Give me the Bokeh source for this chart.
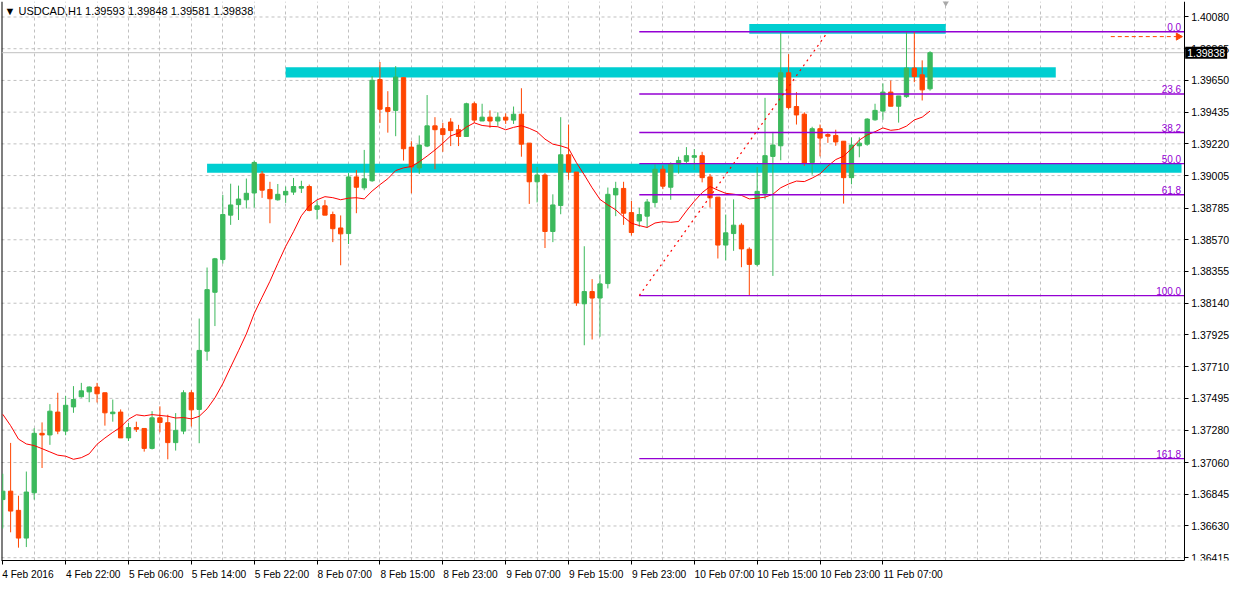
import numpy as np
import pandas as pd
from bokeh.plotting import figure
from bokeh.models import FixedTicker, PrintfTickFormatter, Label, Range1d
from bokeh.core.properties import value
from bokeh.embed import file_html
from bokeh.resources import INLINE

# ---------------- data (USDCAD, H1) ----------------
opens = [1.36809, 1.36866, 1.36736, 1.36548, 1.36855, 1.37258, 1.37247, 1.37402, 1.37273, 1.37437,
         1.37506, 1.37539, 1.37572, 1.37533, 1.37391, 1.37402, 1.37227, 1.37297, 1.37291, 1.37156,
         1.37363, 1.37330, 1.37195, 1.37273, 1.37533, 1.37420, 1.37815, 1.38214, 1.38436, 1.38737,
         1.38808, 1.38841, 1.38887, 1.39016, 1.38911, 1.38841, 1.38874, 1.38893, 1.38920, 1.38931,
         1.38776, 1.38800, 1.38741, 1.38650, 1.38612, 1.38996, 1.38922, 1.38970, 1.39656, 1.39466,
         1.39447, 1.39669, 1.39198, 1.39057, 1.39205, 1.39342, 1.39323, 1.39368, 1.39316, 1.39270,
         1.39492, 1.39375, 1.39401, 1.39375, 1.39401, 1.39381, 1.39421, 1.39225, 1.38963, 1.39009,
         1.38626, 1.38802, 1.39146, 1.39029, 1.38136, 1.38219, 1.38175, 1.38273, 1.38874, 1.38918,
         1.38754, 1.38697, 1.38730, 1.38822, 1.39048, 1.38926, 1.39083, 1.39102, 1.39129, 1.39140,
         1.38996, 1.38859, 1.38534, 1.38612, 1.38669, 1.38506, 1.38403, 1.38885, 1.39135, 1.39207,
         1.39702, 1.39473, 1.39421, 1.39094, 1.39323, 1.39283, 1.39277, 1.39238, 1.38991, 1.39207,
         1.39218, 1.39383, 1.39442, 1.39571, 1.39475, 1.39540, 1.39734, 1.39688, 1.39593]
highs = [1.36984, 1.37193, 1.36835, 1.36999, 1.37293, 1.37332, 1.37456, 1.37533, 1.37511, 1.37578,
         1.37600, 1.37576, 1.37600, 1.37533, 1.37487, 1.37420, 1.37328, 1.37337, 1.37291, 1.37408,
         1.37441, 1.37384, 1.37395, 1.37550, 1.37550, 1.38036, 1.38382, 1.38447, 1.38874, 1.38950,
         1.38937, 1.38985, 1.39107, 1.39035, 1.38963, 1.38948, 1.38931, 1.38989, 1.38970, 1.38944,
         1.38835, 1.38839, 1.38761, 1.38735, 1.39022, 1.39042, 1.39179, 1.39680, 1.39775, 1.39577,
         1.39747, 1.39669, 1.39238, 1.39277, 1.39551, 1.39401, 1.39362, 1.39394, 1.39349, 1.39499,
         1.39506, 1.39492, 1.39447, 1.39434, 1.39427, 1.39473, 1.39597, 1.39225, 1.39063, 1.39022,
         1.38878, 1.39401, 1.39351, 1.39029, 1.38526, 1.38303, 1.38336, 1.38924, 1.38963, 1.38963,
         1.38833, 1.38787, 1.38846, 1.39081, 1.39074, 1.39094, 1.39133, 1.39198, 1.39185, 1.39166,
         1.39016, 1.38859, 1.38741, 1.38844, 1.38682, 1.38519, 1.39063, 1.39532, 1.39301, 1.39976,
         1.39828, 1.39571, 1.39434, 1.39336, 1.39351, 1.39292, 1.39316, 1.39238, 1.39264, 1.39264,
         1.39394, 1.39492, 1.39630, 1.39649, 1.39545, 1.39980, 1.39980, 1.39786, 1.39848]
lows = [1.36613, 1.36587, 1.36483, 1.36487, 1.36809, 1.37023, 1.37180, 1.37252, 1.37245, 1.37397,
        1.37500, 1.37469, 1.37467, 1.37310, 1.37337, 1.37227, 1.37206, 1.37267, 1.37134, 1.37149,
        1.37265, 1.37082, 1.37141, 1.37252, 1.37304, 1.37191, 1.37750, 1.37985, 1.38408, 1.38671,
        1.38704, 1.38782, 1.38787, 1.38854, 1.38682, 1.38835, 1.38820, 1.38874, 1.38887, 1.38763,
        1.38708, 1.38737, 1.38554, 1.38397, 1.38541, 1.38750, 1.38906, 1.38963, 1.39362, 1.39296,
        1.39272, 1.39107, 1.38885, 1.39016, 1.39198, 1.39048, 1.39166, 1.39205, 1.39205, 1.39270,
        1.39362, 1.39375, 1.39329, 1.39342, 1.39355, 1.39355, 1.39133, 1.38813, 1.38823, 1.38514,
        1.38554, 1.38743, 1.38976, 1.38122, 1.37855, 1.37894, 1.37913, 1.38240, 1.38730, 1.38671,
        1.38599, 1.38658, 1.38652, 1.38789, 1.38913, 1.38841, 1.39018, 1.39083, 1.39044, 1.38959,
        1.38789, 1.38443, 1.38430, 1.38495, 1.38384, 1.38192, 1.38390, 1.38844, 1.38325, 1.39109,
        1.39455, 1.39351, 1.39070, 1.39011, 1.39135, 1.39227, 1.39207, 1.38815, 1.38946, 1.39129,
        1.39207, 1.39377, 1.39383, 1.39475, 1.39364, 1.39532, 1.39638, 1.39514, 1.39581]
closes = [1.36866, 1.36731, 1.36548, 1.36860, 1.37258, 1.37247, 1.37408, 1.37273, 1.37448, 1.37487,
          1.37546, 1.37572, 1.37526, 1.37397, 1.37402, 1.37227, 1.37297, 1.37286, 1.37156, 1.37363,
          1.37332, 1.37195, 1.37278, 1.37533, 1.37417, 1.37820, 1.38232, 1.38441, 1.38741, 1.38806,
          1.38846, 1.38885, 1.39094, 1.38906, 1.38848, 1.38878, 1.38898, 1.38931, 1.38931, 1.38769,
          1.38800, 1.38737, 1.38645, 1.38610, 1.38996, 1.38926, 1.38983, 1.39651, 1.39455, 1.39440,
          1.39673, 1.39187, 1.39063, 1.39212, 1.39342, 1.39316, 1.39283, 1.39310, 1.39270, 1.39492,
          1.39381, 1.39401, 1.39375, 1.39401, 1.39381, 1.39421, 1.39218, 1.38963, 1.39009, 1.38626,
          1.38806, 1.39146, 1.39029, 1.38142, 1.38219, 1.38175, 1.38271, 1.38878, 1.38918, 1.38750,
          1.38619, 1.38741, 1.38826, 1.39048, 1.38933, 1.39087, 1.39107, 1.39140, 1.39140, 1.38991,
          1.38854, 1.38534, 1.38617, 1.38669, 1.38508, 1.38403, 1.38898, 1.39140, 1.39212, 1.39702,
          1.39466, 1.39416, 1.39089, 1.39323, 1.39259, 1.39272, 1.39233, 1.38991, 1.39212, 1.39225,
          1.39388, 1.39447, 1.39571, 1.39475, 1.39545, 1.39734, 1.39677, 1.39586, 1.39838]

# moving average: values of the first bars, the rest is its 14-bar SMA
ma_period = 14
ma_head = [1.37387, 1.37310, 1.37219, 1.37186, 1.37175, 1.37154, 1.37132,
           1.37110, 1.37103, 1.37082, 1.37093, 1.37119, 1.37184]

price_ticks = [1.40080, 1.39865, 1.39650, 1.39435, 1.39220, 1.39005, 1.38785, 1.38570, 1.38355,
               1.38140, 1.37925, 1.37710, 1.37495, 1.37280, 1.37060, 1.36845, 1.36630, 1.36415]
date_labels = ["4 Feb 2016", "4 Feb 22:00", "5 Feb 06:00", "5 Feb 14:00", "5 Feb 22:00",
               "8 Feb 07:00", "8 Feb 15:00", "8 Feb 23:00", "9 Feb 07:00", "9 Feb 15:00",
               "9 Feb 23:00", "10 Feb 07:00", "10 Feb 15:00", "10 Feb 23:00", "11 Feb 07:00"]
date_bars = list(range(0, 8 * len(date_labels), 8))

fib_levels = [0.0, 23.6, 38.2, 50.0, 61.8, 100.0, 161.8]
fib_high = 1.39980
fib_low = 1.38192
fib_start_bar = 81
fib_end_bar = 105

zone_left = [95, 36, 26]
zone_right = [120, 134, 150]
zone_top = [1.40032, 1.39739, 1.39086]
zone_bottom = [1.39966, 1.39670, 1.39024]

bid_price = 1.39838
alert_price = 1.39947
alert_start_bar = 141
alert_end_bar = 149.6
shift_bar = 120

title_text = "\u25bc USDCAD,H1  1.39593 1.39848 1.39581 1.39838"

# ---------------- styling ----------------
GREEN = "#3cb95c"
RED = "#ff4500"
PURPLE = "#9400d3"
CYAN = "#00ced1"
GRID = "#c0c0c0"
FONT = "Liberation Sans"

o = np.array(opens)
h = np.array(highs)
l = np.array(lows)
c = np.array(closes)
bars = np.arange(len(o))
colors = np.where(c >= o, GREEN, RED).tolist()

ma = pd.Series(closes).rolling(ma_period).mean().to_numpy()
ma[:ma_period - 1] = ma_head

W, H = 1233, 582
FRAME_PX = W - 10          # width of the plotting frame
LABEL_ROOM = 48            # pixels kept right of the price axis for its labels
X0, X1 = -0.16, 150.34     # chart area (price axis sits at X1)
XE = X1 + (X1 - X0) * LABEL_ROOM / (FRAME_PX - LABEL_ROOM)
Y0, Y1 = 1.36396, 1.40185

p = figure(width=W, height=H, x_range=Range1d(X0, XE), y_range=Range1d(Y0, Y1),
           y_axis_location="right", toolbar_location=None, output_backend="svg",
           min_border_left=1, min_border_top=1, min_border_right=1, min_border_bottom=2)
p.background_fill_color = "white"
p.border_fill_color = "white"
p.outline_line_color = None

# grids
p.xgrid.ticker = FixedTicker(ticks=list(range(4, 150, 4)))
p.xgrid.grid_line_color = GRID
p.xgrid.grid_line_dash = "3 3"
p.ygrid.visible = False
p.segment(x0=[X0] * len(price_ticks), x1=[X1] * len(price_ticks), y0=price_ticks, y1=price_ticks,
          line_color=GRID, line_dash="3 3", line_width=1)

# left border of the chart window
p.segment(x0=[X0], x1=[X0], y0=[Y0], y1=[Y1], line_color="black", line_width=2)

# support / resistance zones
p.quad(left=zone_left, right=zone_right, top=zone_top, bottom=zone_bottom,
       fill_color=CYAN, line_color=None)

# bid line
p.segment(x0=[X0], x1=[X1], y0=[bid_price], y1=[bid_price], line_color=GRID, line_width=1)

# candles
p.segment(x0=bars, y0=h, x1=bars, y1=l, line_color=colors, line_width=1)
p.vbar(x=bars, width=0.55, top=np.maximum(o, c), bottom=np.minimum(o, c),
       fill_color=colors, line_color=colors, line_width=1)

# moving average
p.line(bars, ma, line_color="#ff0000", line_width=1)

# fibonacci retracement
fib_prices = [fib_high - (fib_high - fib_low) * lv / 100.0 for lv in fib_levels]
p.segment(x0=[fib_start_bar] * len(fib_prices), x1=[X1] * len(fib_prices),
          y0=fib_prices, y1=fib_prices, line_color=PURPLE, line_width=1.3)
p.text(x=[X1] * len(fib_prices), y=fib_prices, text=["%.1f" % lv for lv in fib_levels],
       x_offset=-3, y_offset=-1, text_align="right", text_baseline="bottom",
       text_color=PURPLE, text_font=value(FONT), text_font_size="10px")
p.line([fib_start_bar, fib_end_bar], [fib_low, fib_high], line_color="#ff0000",
       line_dash="2 4", line_width=1.2)

# alert line with arrow
p.line([alert_start_bar, alert_end_bar], [alert_price, alert_price], line_color=RED,
       line_dash="4 3", line_width=1)
p.scatter(x=[alert_end_bar], y=[alert_price], marker="triangle", angle=-np.pi / 2,
          size=7, fill_color=RED, line_color=RED)

# chart-shift marker
p.scatter(x=[shift_bar], y=[Y1], marker="inverted_triangle", size=9,
          fill_color="#a8a8a8", line_color=None)

# title
p.add_layout(Label(x=X0, y=Y1, x_offset=3, y_offset=-3, text=title_text,
                   text_baseline="top", text_font=FONT, text_font_size="11px",
                   text_color="black"))

# price axis, drawn at the right edge of the chart area
ya = p.yaxis[0]
ya.fixed_location = X1
ya.ticker = FixedTicker(ticks=price_ticks)
ya.formatter = PrintfTickFormatter(format="%.5f")
ya.major_tick_out = 4
ya.major_tick_in = 0
ya.minor_tick_line_color = None
ya.axis_line_color = "black"
ya.major_tick_line_color = "black"
ya.major_label_text_font = FONT
ya.major_label_text_font_size = "10.5px"
ya.major_label_text_color = "black"
ya.major_label_standoff = 3

# time axis (bottom): labels start at their tick, so centre them to the right of it
px_per_bar = (FRAME_PX - LABEL_ROOM) / (X1 - X0)
centers = [round(b + 5.0 * len(t) / 2.0 / px_per_bar, 3) for b, t in zip(date_bars, date_labels)]
xa = p.xaxis[0]
xa.bounds = (X0, X1)
xa.ticker = FixedTicker(ticks=centers, minor_ticks=date_bars)
xa.major_label_overrides = {cx: t for cx, t in zip(centers, date_labels)}
xa.major_tick_line_color = None
xa.minor_tick_line_color = "black"
xa.minor_tick_out = 4
xa.minor_tick_in = 0
xa.axis_line_color = "black"
xa.major_label_text_font = FONT
xa.major_label_text_font_size = "10.2px"
xa.major_label_text_color = "black"
xa.major_label_standoff = 2

# current price label over the price axis
p.add_layout(Label(x=X1, y=bid_price, x_offset=1, text="%.5f" % bid_price,
                   text_baseline="middle", text_font=FONT, text_font_size="10.5px",
                   text_color="white", background_fill_color="black", padding=2))

open("out.html", "w").write(file_html(p, INLINE, title="USDCAD H1"))
